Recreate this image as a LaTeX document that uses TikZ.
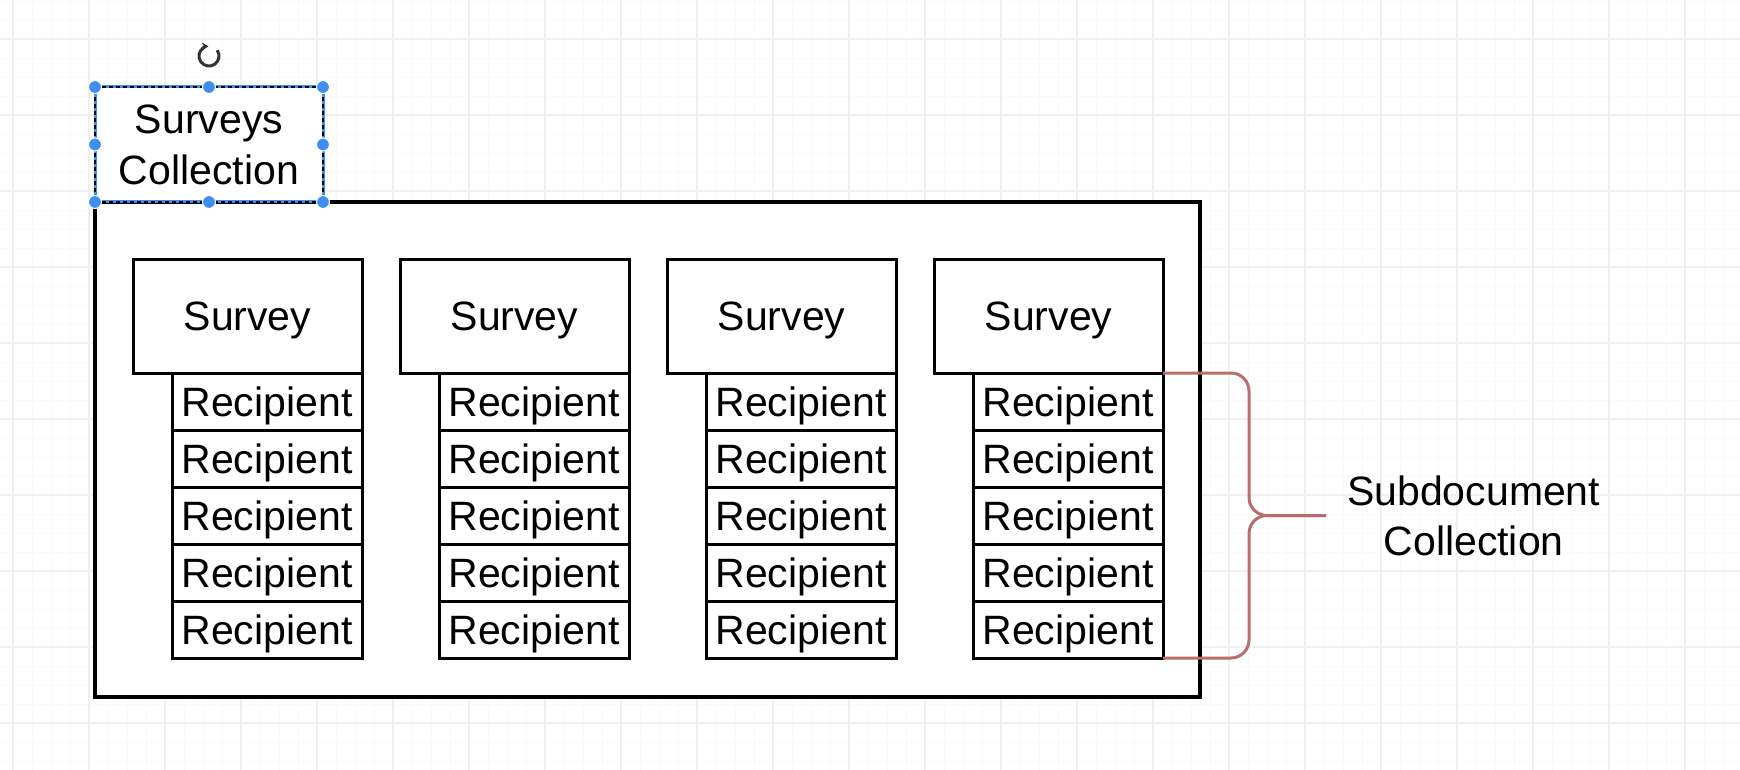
\documentclass[tikz,border=0pt]{standalone}
\usepackage{fontspec}
\setmainfont{Liberation Sans}
\usetikzlibrary{arrows.meta,positioning}
\definecolor{gridmajor}{HTML}{F0F0F0}
\definecolor{gridminor}{HTML}{FAFAFA}
\definecolor{selblue}{HTML}{3F8EF2}
\definecolor{bracered}{HTML}{B66F6C}

\begin{document}
\begin{tikzpicture}[x=1pt,y=-1pt,
  surv/.style={draw,fill=white,line width=3pt,outer sep=0pt,inner sep=0pt,minimum width=229pt,minimum height=114pt,text height=29pt,text depth=0pt,font=\fontsize{41}{52}\selectfont},
  recip/.style={draw,fill=white,line width=3pt,outer sep=0pt,inner sep=0pt,minimum width=190pt,minimum height=57pt,text height=29pt,text depth=0pt,font=\fontsize{41}{52}\selectfont},
  coll/.style={draw,fill=white,line width=3.2pt,outer sep=0pt,minimum width=1105pt,minimum height=495pt},
  title/.style={fill=white,draw=selblue,line width=3pt,outer sep=0pt,inner sep=0pt,minimum width=228pt,minimum height=115pt,align=center,font=\fontsize{41}{51}\selectfont,
    postaction={draw=black,dash pattern=on 4pt off 3pt,line width=1.8pt}},
  handle/.style={fill=selblue,draw=white,line width=1pt},
  brace/.style={draw=bracered,line width=3pt,rounded corners=18pt}]
\useasboundingbox (0,0) rectangle (1740,770);
\fill[white] (0,0) rectangle (1740,770);
% canvas grid
\foreach \gx in {13,32,...,1740} \draw[gridminor,line width=0.8pt] (\gx,0) -- (\gx,770);
\foreach \gy in {1,20,...,770} \draw[gridminor,line width=0.8pt] (0,\gy) -- (1740,\gy);
\foreach \gx in {13,89,...,1740} \draw[gridmajor,line width=1.2pt] (\gx,0) -- (\gx,770);
\foreach \gy in {39,115,...,770} \draw[gridmajor,line width=1.2pt] (0,\gy) -- (1740,\gy);

\node[coll,anchor=north west] (coll) at (95,202) {};
\node[title,anchor=south west] (title) at (coll.north west) {Surveys\\Collection};
\foreach \a in {north west,north,north east,east,south east,south,south west,west}
  \filldraw[handle] (title.\a) circle (6.5pt);
\coordinate (rot) at ([yshift=31pt]title.north);
\draw[line width=3pt,black!80,-{Stealth[length=6pt,width=8pt]}] ([shift={(-35:10)}]rot) arc[start angle=-35,end angle=265,radius=10];

% surveys with their recipients
\foreach \i in {1,...,4}{
  \node[surv] (s\i) at ({267*\i-19.5},316) {Survey};
  \node[recip,anchor=north east] (r\i1) at (s\i.south east) {Recipient};
  \foreach \j [count=\k from 2] in {1,...,4}
    \node[recip,below=0pt of r\i\j] (r\i\k) {Recipient};
}

\draw[brace] (r41.north east) -- ++(86,0) -- ++(0,142.5) -- ++(77,0) coordinate (tip);
\draw[brace] (r45.south east) -- ++(86,0) -- ++(0,-142.5) -- ++(77,0);
\node[right=21pt of tip,inner sep=0pt,align=center,font=\fontsize{41}{50}\selectfont] (sub) {Subdocument\\Collection};
\end{tikzpicture}
\end{document}
